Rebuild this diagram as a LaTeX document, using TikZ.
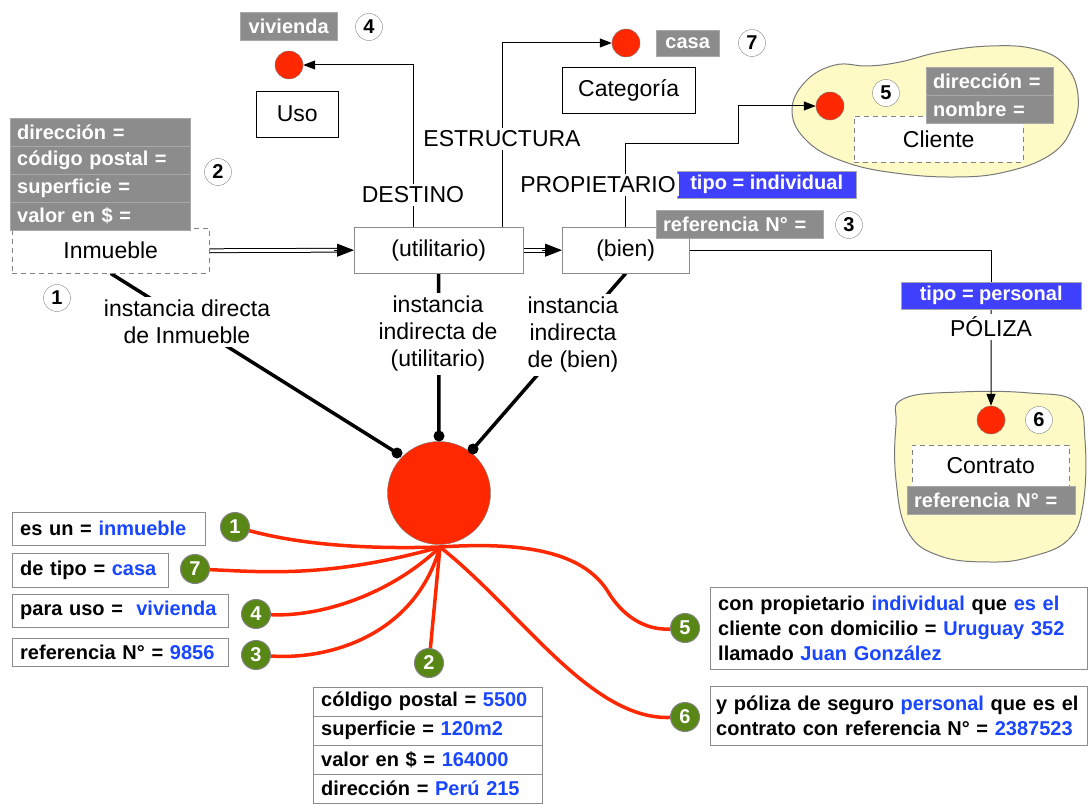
\documentclass[tikz,border=0pt]{standalone}
\usepackage{fontspec}
\setmainfont{Liberation Sans}
\usetikzlibrary{arrows.meta,calc}
\definecolor{tagbg}{RGB}{140,140,140}
\definecolor{tagedge}{RGB}{168,168,168}
\definecolor{tagblue}{RGB}{64,64,255}
\definecolor{valblue}{RGB}{25,70,255}
\definecolor{dotred}{RGB}{255,40,0}
\definecolor{dotedge}{RGB}{120,120,120}
\definecolor{numgreen}{RGB}{88,135,22}
\definecolor{numedge}{RGB}{130,130,130}
\definecolor{boxedge}{RGB}{140,140,140}
\definecolor{dashgray}{RGB}{130,130,130}
\definecolor{blobfill}{RGB}{253,250,198}
\definecolor{blobedge}{RGB}{120,120,120}
\newcommand\labfont{\fontsize{23}{27}\selectfont}
\newcommand\tagfont{\fontsize{20}{25}\selectfont\bfseries}
\newcommand\val[1]{\textcolor{valblue}{#1}}
\pgfdeclarelayer{blobs}
\pgfdeclarelayer{wires}
\pgfsetlayers{blobs,wires,main}
\tikzset{
  sz/.style 2 args={minimum width=#1pt, minimum height=#2pt},
  tw/.style 2 args={text width=#1pt, minimum height=#2pt},
  lbl/.style={font=\labfont, fill=white, inner sep=3pt, align=center},
  gbox/.style={fill=tagbg, draw=tagedge, text=white, font=\tagfont, inner ysep=0pt, inner xsep=7pt, anchor=north west, align=left},
  bbox/.style={fill=tagblue, draw=tagedge, text=white, font=\tagfont, inner sep=0pt, anchor=north west},
  wbox/.style={fill=white, draw=boxedge, text=black, font=\tagfont, inner ysep=0pt, inner xsep=8pt, anchor=north west, align=left},
  sbox/.style={fill=white, draw=boxedge, font=\labfont, inner sep=0pt, anchor=north west},
  kbox/.style={fill=white, draw=black, font=\labfont, inner sep=0pt, anchor=north west},
  dbox/.style={fill=white, draw=dashgray, dash pattern=on 5pt off 4pt, font=\labfont, inner sep=0pt, anchor=north west},
  cnum/.style={circle, draw=numedge, fill=white, font=\tagfont, minimum size=27pt, inner sep=0pt},
  gnum/.style={circle, draw=numedge, line width=1pt, fill=numgreen, text=white, font=\tagfont, minimum size=29pt, inner sep=0pt},
  rdot/.style={circle, draw=dotedge, fill=dotred, minimum size=28pt, inner sep=0pt},
  jdot/.style={circle, fill=black, minimum size=11pt, inner sep=0pt},
  wire/.style={line width=1pt, draw=black},
  arr/.style={wire, -{Triangle[length=12pt,width=9pt]}},
  dbl/.style={double=white, double distance=2.8pt, line width=1pt},
  dbltip/.style={wire, -{Triangle[length=17pt,width=13pt]}},
  thick link/.style={line width=3.5pt, draw=black},
  tent/.style={line width=3.5pt, draw=dotred, line cap=round},
  blob/.style={fill=blobfill, draw=blobedge, line width=1pt}
}
\begin{document}
\begin{tikzpicture}[x=1pt,y=-1pt]
\useasboundingbox (0,0) rectangle (1090,805);

% ---------- class boxes ----------
\node[dbox, sz={197}{45}] (inm) at (12,228) {Inmueble};
\node[gbox, tw={166}{28}] (a1) at (10,118) {dirección =};
\node[gbox, tw={166}{28}] (a2) at (10,146) {código postal =};
\node[gbox, tw={166}{28}] (a3) at (10,174) {superficie =};
\node[gbox, tw={166}{28}] (a4) at (10,202) {valor en \$ =};

\node[sbox, sz={169}{46}] (util) at (354,227) {(utilitario)};
\node[sbox, sz={127}{46}] (bien) at (562,227) {(bien)};
\node[gbox, tw={153}{28}] (refb) at (656,210) {referencia N° =};

\node[kbox, sz={82}{46}] (uso) at (256,91) {Uso};
\node[gbox, sz={97}{28}, align=center] (viv) at (240,12) {vivienda};
\node[rdot] (usodot) at (289,65) {};

\node[kbox, sz={133}{46}] (cat) at (562,67) {Categoría};
\node[gbox, sz={63}{26}, align=center] (casa) at (656,30) {casa};
\node[rdot] (casadot) at (626,43) {};

% ---------- Cliente ----------
\begin{pgfonlayer}{blobs}
\draw[blob] plot[smooth cycle, tension=0.7] coordinates {(792,112) (805,82) (835,65) (868,66) (900,62) (940,52) (990,46) (1035,49) (1065,65) (1078,95) (1072,128) (1050,155) (1005,172) (955,177) (895,173) (845,162) (808,142)};
\draw[blob] plot[smooth cycle, tension=0.7] coordinates {(903,399) (960,392) (1030,393) (1075,402) (1085,440) (1083,505) (1068,540) (1030,557) (990,562) (940,556) (908,532) (896,480) (896,425)};
\end{pgfonlayer}
\node[dbox, sz={169}{46}] (cli) at (854,116) {Cliente};
\node[gbox, tw={113}{28}] (cdir) at (926,67) {dirección =};
\node[gbox, tw={113}{28}] (cnom) at (926,95) {nombre =};
\node[rdot] (clidot) at (830,106) {};

% ---------- Contrato ----------
\node[dbox, sz={157}{41}] (con) at (912,445) {Contrato};
\node[gbox, tw={154}{28}] (cref) at (907,486) {referencia N° =};
\node[rdot] (condot) at (991,420) {};

% ---------- value tags ----------
\node[bbox, sz={179}{27}] (tind) at (677,171) {tipo = individual};
\node[bbox, sz={180}{27}] (tper) at (901,282) {tipo = personal};

% ---------- the instance ----------
\node[circle, fill=dotred, draw=dotedge, minimum size=103pt, inner sep=0pt] (inst) at (439,493) {};
\coordinate (tc) at (440,547);
\node[jdot] (j1) at (397,453) {};
\node[jdot] (j2) at (439,436) {};
\node[jdot] (j3) at (473,449) {};

% ---------- connectors ----------
\begin{pgfonlayer}{wires}
\draw[dbl, shorten >=16pt] (inm.east) -- (util.west);
\draw[dbltip] ($(util.west)+(-20,0)$) -- (util.west);
\draw[dbl, shorten >=16pt] (util.east) -- (bien.west);
\draw[dbltip] ($(bien.west)+(-20,0)$) -- (bien.west);

\draw[arr] ($(util.north)+(-25.5,0)$) |- (usodot.east);
\draw[arr] ($(util.north)+(63.5,0)$) |- (casadot.west);
\coordinate (pbend) at (738,144);
\draw[arr] (bien.north) |- (pbend) |- (clidot.west);
\draw[wire] (bien.east) -| (tper.north);
\draw[arr] (tper.south) -- (condot.north);

\draw[thick link] (inm.south) -- (j1.center);
\draw[thick link] (util.south) -- (j2.center);
\draw[thick link] (bien.south) -- (j3.center);
\end{pgfonlayer}

% ---------- relation labels ----------
\node[lbl] (ldest) at (413,195) {DESTINO};
\node[lbl] (lestr) at (502,139) {ESTRUCTURA};
\node[lbl] (lprop) at (598,185) {PROPIETARIO};
\node[lbl] (lpol) at (991,327) {PÓLIZA};
\node[lbl] (li1) at (187,322) {instancia directa\\de Inmueble};
\node[lbl] (li2) at (438,334) {instancia\\indirecta de\\(utilitario)};
\node[lbl] (li3) at (573,335) {instancia\\indirecta\\de (bien)};

% ---------- step numbers ----------
\node[cnum] (c4) at (369,27) {4};
\node[cnum] (c7) at (752,43) {7};
\node[cnum] (c2) at (218,172) {2};
\node[cnum] (c1) at (57,298) {1};
\node[cnum] (c3) at (849,225) {3};
\node[cnum] (c5) at (886,93) {5};
\node[cnum] (c6) at (1039,420) {6};

% ---------- resulting statements ----------
\node[wbox, tw={177}{33}] (f1) at (12,512) {es un = \val{inmueble}};
\node[wbox, tw={140}{34}] (f7) at (12,553) {de tipo = \val{casa}};
\node[wbox, tw={200}{33}] (f4) at (12,594) {para uso = ~\val{vivienda}};
\node[wbox, tw={200}{28}] (f3) at (12,638) {referencia N° = \val{9856}};

\node[wbox, tw={213}{29}] (f2a) at (313,687) {cóldigo postal = \val{5500}};
\node[wbox, tw={213}{29}] (f2b) at (313,716) {superficie = \val{120m2}};
\node[wbox, tw={213}{29}] (f2c) at (313,745) {valor en \$ = \val{164000}};
\node[wbox, tw={213}{29}] (f2d) at (313,774) {dirección = \val{Perú 215}};

\node[wbox, tw={361}{82}] (f5) at (710,587) {\mbox{con propietario \val{individual} que \val{es el}}\\\mbox{cliente con domicilio = \val{Uruguay 352}}\\llamado \val{Juan González}};
\node[wbox, inner xsep=6pt, tw={365}{59}] (f6) at (710,686) {\mbox{y póliza de seguro \val{personal} que es el}\\\mbox{contrato con referencia N° = \val{2387523}}};

\node[gnum] (g1) at (235,527) {1};
\node[gnum] (g7) at (195,569) {7};
\node[gnum] (g4) at (256,614) {4};
\node[gnum] (g3) at (256,655) {3};
\node[gnum] (g2) at (429,663) {2};
\node[gnum] (g5) at (685,628) {5};
\node[gnum] (g6) at (685,717) {6};

\begin{pgfonlayer}{wires}
\draw[tent] (tc) .. controls (340,550) and (285,540) .. (g1);
\draw[tent] (tc) .. controls (330,578) and (265,572) .. (g7);
\draw[tent] (tc) .. controls (390,595) and (320,617) .. (g4);
\draw[tent] (tc) .. controls (415,635) and (330,660) .. (g3);
\draw[tent] (tc) -- (g2);
\draw[tent] (tc) .. controls (545,540) and (590,560) .. (610,595) .. controls (630,625) and (655,630) .. (g5);
\draw[tent] (tc) .. controls (520,610) and (590,720) .. (g6);
\end{pgfonlayer}
\end{tikzpicture}
\end{document}
